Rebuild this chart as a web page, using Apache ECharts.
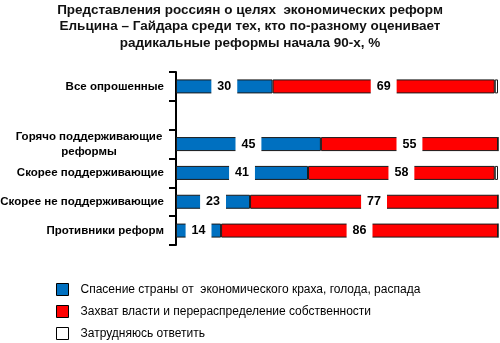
<!DOCTYPE html>
<html><head><meta charset="utf-8">
<script src="https://cdn.jsdelivr.net/npm/echarts@6/dist/echarts.min.js"></script>
<style>html,body{margin:0;padding:0;background:#fff}#c{width:500px;height:343px}</style>
</head><body><div id="c"></div>
<script>
var categories = ['Все опрошенные', '', 'Горячо поддерживающие\nреформы', 'Скорее поддерживающие', 'Скорее не поддерживающие', 'Противники реформ'];
var seriesNames = ['Спасение страны от  экономического краха, голода, распада', 'Захват власти и перераспределение собственности', 'Затрудняюсь ответить'];
var rescue = [30, null, 45, 41, 23, 14];
var seizure = [69, null, 55, 58, 77, 86];
var unsure = [1, null, 0, 1, 0, 0];
var titleText = 'Представления россиян о целях  экономических реформ\nЕльцина – Гайдара среди тех, кто по-разному оценивает\nрадикальные реформы начала 90-х, %';

var FONT = 'Liberation Sans, Arial, sans-serif';
var chart = echarts.init(document.getElementById('c'), null, {renderer: 'canvas'});
function barLabel(show) {
  return {
    show: show, position: 'inside', color: '#000', fontFamily: FONT, fontSize: 12.5, fontWeight: 'bold',
    backgroundColor: '#fff', padding: [2, 6], lineHeight: 14
  };
}
var colors = ['#0070C0', '#FF0000', '#FFFFFF'];
var datas = [rescue, seizure, unsure];
var series = datas.map(function (d, i) {
  return {
    name: seriesNames[i], type: 'bar', stack: 'all', data: d, barWidth: 14,
    itemStyle: {color: colors[i], borderColor: '#1a1a1a', borderWidth: 1},
    label: barLabel(i < 2),
    animation: false
  };
});
chart.setOption({
  animation: false,
  title: {
    text: titleText, left: 'center', top: 2, padding: 0,
    textStyle: {fontFamily: FONT, fontSize: 13.5, fontWeight: 'bold', lineHeight: 16.5, color: '#111'}
  },
  grid: {left: 176, right: 2, top: 72, height: 173, containLabel: false, outerBoundsMode: 'none'},
  xAxis: {type: 'value', min: 0, max: 100, show: false},
  yAxis: {
    type: 'category', data: categories, inverse: true,
    axisLine: {show: true, lineStyle: {color: '#000', width: 2}},
    axisTick: {show: true, length: 7, lineStyle: {color: '#000', width: 2}},
    axisLabel: {
      margin: 12, color: '#000', fontFamily: FONT, fontSize: 11.5, fontWeight: 'bold', lineHeight: 15,
      formatter: function (v) {
        if (v.indexOf('\n') < 0) return v;
        return v.split('\n').map(function (s) { return '{c|' + s + '}'; }).join('\n');
      },
      rich: {c: {width: 150, align: 'center', fontFamily: FONT, fontSize: 11.5, fontWeight: 'bold', color: '#000', lineHeight: 15}}
    }
  },
  legend: {
    orient: 'vertical', left: 56, top: 283, itemWidth: 12, itemHeight: 12, itemGap: 9, padding: 0,
    icon: 'rect',
    data: seriesNames.map(function (n, i) {
      return {name: n, itemStyle: {color: colors[i], borderColor: '#000', borderWidth: 1}};
    }),
    formatter: function (n) { return '{a|' + n + '}'; },
    textStyle: {
      color: '#000', fontFamily: FONT, fontSize: 12,
      rich: {a: {padding: [0, 0, 0, 7], fontFamily: FONT, fontSize: 12, color: '#000', lineHeight: 12}}
    }
  },
  series: series
});
</script></body></html>
